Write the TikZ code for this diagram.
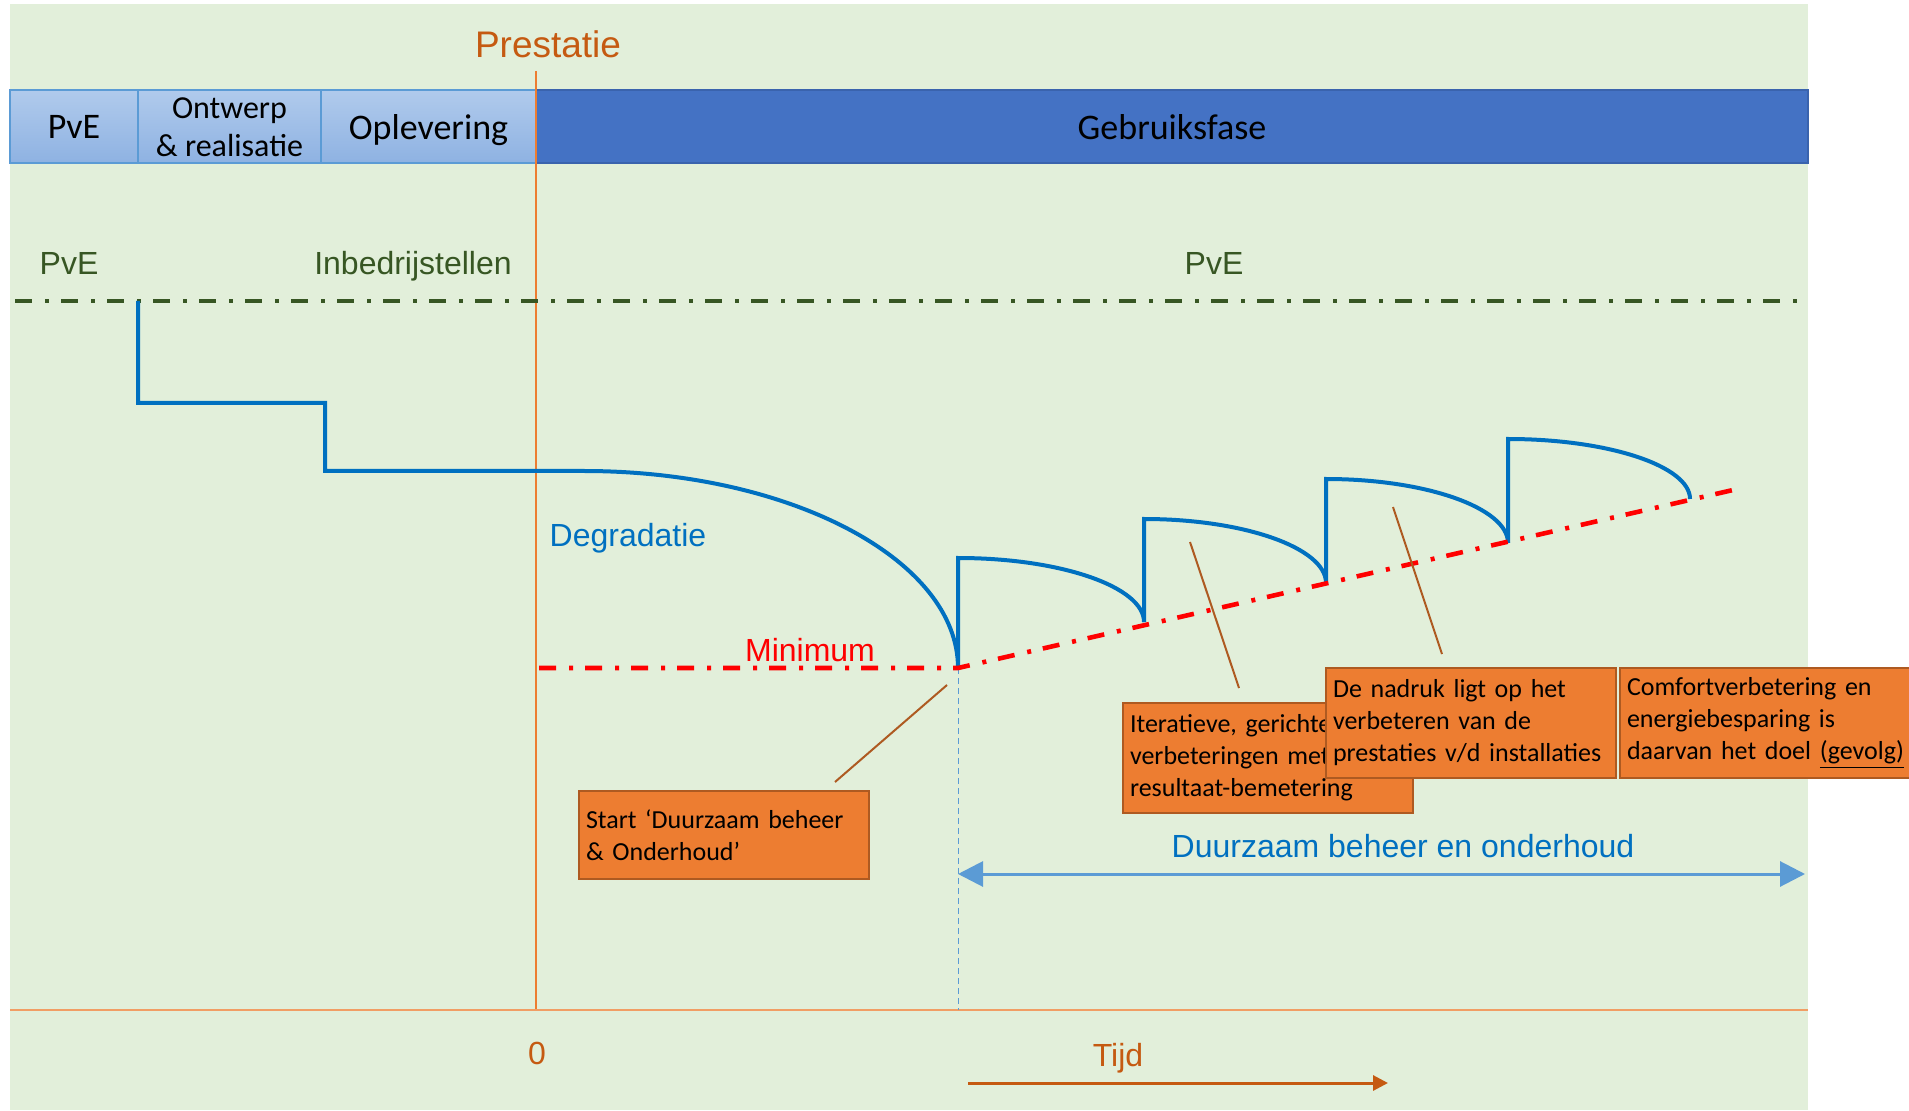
\documentclass[tikz,border=0pt]{standalone}
\usepackage{fontspec}
\setmainfont{Liberation Sans}
\newfontfamily\calibri{Carlito}
\usetikzlibrary{arrows.meta}

\definecolor{bggreen}{HTML}{E2EFDA}
\definecolor{phasetop}{HTML}{B0CAEC}
\definecolor{phasebot}{HTML}{8EB2E2}
\definecolor{phaseline}{HTML}{5B9BD5}
\definecolor{usefill}{HTML}{4472C4}
\definecolor{useline}{HTML}{3A63AD}
\definecolor{pvegreen}{HTML}{375623}
\definecolor{perfblue}{HTML}{0070C0}
\definecolor{lightblue}{HTML}{5B9BD5}
\definecolor{axisorange}{HTML}{ED7D31}
\definecolor{darkorange}{HTML}{C55A11}
\definecolor{boxorange}{HTML}{ED7D31}
\definecolor{boxline}{HTML}{AE5A21}

\tikzstyle{phase}=[draw=phaseline, line width=1pt, top color=phasetop, bottom color=phasebot, minimum height=36.5pt, inner sep=0pt, text depth=0pt, font=\calibri\fontsize{18}{21}\selectfont]
\tikzstyle{usephase}=[draw=useline, line width=1pt, fill=usefill, minimum height=36.5pt, inner sep=0pt, text depth=0pt, font=\calibri\fontsize{18}{21}\selectfont]
\tikzstyle{lbl}=[inner sep=0pt, anchor=base, font=\fontsize{16}{19}\selectfont]
\tikzstyle{callout}=[draw=boxline, line width=1pt, fill=boxorange, anchor=north west, text width=138pt, inner xsep=3.5pt, inner ysep=0pt, minimum height=55pt, align=left, font=\calibri\fontsize{13}{16}\selectfont]
\tikzstyle{perf}=[perfblue, line width=2pt]
\tikzstyle{pvelevel}=[pvegreen, line width=2.3pt, dash pattern=on 8.5pt off 6.5pt on 2pt off 6pt]
\tikzstyle{minlevel}=[red, line width=2.3pt, dash pattern=on 8.5pt off 6.5pt on 2pt off 6pt]
\tikzstyle{leader}=[boxline, line width=1pt]
\tikzstyle{bigarrow}=[lightblue, line width=1.5pt]

\begin{document}
\begin{tikzpicture}[x=0.5pt, y=-0.5pt]
  \useasboundingbox (0,0) rectangle (1909,1111);
  \fill[bggreen] (10,4) rectangle (1808,1110);

  % fasen
  \node[phase, minimum width=64pt] (pve) at (74,127) {PvE};
  \node[phase, minimum width=91.5pt, align=center, font=\calibri\fontsize{16}{19}\selectfont] (ontwerp) at (229.5,127) {Ontwerp\\\& realisatie};
  \node[phase, minimum width=107.5pt] (oplevering) at (428.5,127) {Oplevering};
  \node[usephase, minimum width=636pt] (gebruik) at (1172,127) {Gebruiksfase};

  % labels
  \node[lbl, darkorange, font=\fontsize{18.5}{22}\selectfont] (prestatie) at (548,58) {Prestatie};
  \node[lbl, pvegreen] (pvelabel) at (69,275) {PvE};
  \node[lbl, pvegreen] (inbedrijf) at (413,275) {Inbedrijstellen};
  \node[lbl, pvegreen] (pvegebruik) at (1214,275) {PvE};
  \node[lbl, perfblue] (degradatie) at (628,546) {Degradatie};
  \node[lbl, red] (minimum) at (810,661) {Minimum};
  \node[lbl, darkorange] (nul) at (537,1064) {0};
  \node[lbl, darkorange] (tijd) at (1118,1066) {Tijd};
  \node[lbl, perfblue] (duurzaam) at (1403,857) {Duurzaam beheer en onderhoud};

  \coordinate (ytop) at (536,71);
  \coordinate (o) at (536,1010);
  \coordinate (xleft) at (10,1010);
  \coordinate (xright) at (1808,1010);
  \coordinate (pvel) at (15,301);
  \coordinate (pver) at (1805,301);
  \coordinate (minl) at (539,668);
  \coordinate (minp) at (958,668);
  \coordinate (mine) at (1733,490);

  % assen
  \draw[axisorange, line width=0.6pt] (ytop) -- (o);
  \draw[axisorange!75, line width=1pt] (xleft) -- (xright);
  \draw[lightblue, line width=0.5pt, dash pattern=on 3pt off 2pt] (minp) -- (minp |- o);

  % niveaus
  \draw[pvelevel] (pvel) -- (pver);

  \draw[perf] (138,301) -- (138,403) -- (325,403) -- (325,471) -- (584,471)
    .. controls (790,471) and (958,560) .. (958,668);
  \draw[perf] (958,668) -- (958,558) .. controls (1061,558) and (1144,587) .. (1144,622);
  \draw[perf] (1144,622) -- (1144,519) .. controls (1244,519) and (1326,548) .. (1326,583);
  \draw[perf] (1326,583) -- (1326,479) .. controls (1426,479) and (1508,508) .. (1508,543);
  \draw[perf] (1508,543) -- (1508,439) .. controls (1608,439) and (1690,466) .. (1690,499);

  \draw[minlevel] (minl) -- (minp) -- (mine);

  % pijlen
  \coordinate (dbstart) at (958,874);
  \coordinate (dbend) at (1805,874);
  \draw[bigarrow, {Triangle[length=12.5pt,width=12.5pt]}-{Triangle[length=12.5pt,width=12.5pt]}] (dbstart) -- (dbend);
  \coordinate (tstart) at (968,1083);
  \coordinate (tend) at (1388,1083);
  \draw[darkorange, line width=1.5pt, -{Triangle[length=7.5pt,width=7.5pt]}] (tstart) -- (tend);

  % toelichting
  \coordinate (lastart) at (947,685);
  \coordinate (laend) at (835,782);
  \coordinate (lbstart) at (1190,542);
  \coordinate (lbend) at (1239,688);
  \coordinate (lcstart) at (1393,507);
  \coordinate (lcend) at (1442,654);
  \draw[leader] (lastart) -- (laend);
  \draw[leader] (lbstart) -- (lbend);
  \draw[leader] (lcstart) -- (lcend);

  \node[callout, minimum height=44pt] (startbox) at (578,790) {Start ‘Duurzaam beheer\\\& Onderhoud’};
  \node[callout] (iteratief) at (1122,702) {Iteratieve, gerichte\\verbeteringen met\\resultaat-bemetering};
  \node[callout] (nadruk) at (1325,667) {De nadruk ligt op het\\verbeteren van de\\prestaties v/d installaties};
  \node[callout] (comfort) at (1619,667) {Comfortverbetering en\\energiebesparing is\\\mbox{daarvan het doel \underline{(gevolg)}}};
\end{tikzpicture}
\end{document}
